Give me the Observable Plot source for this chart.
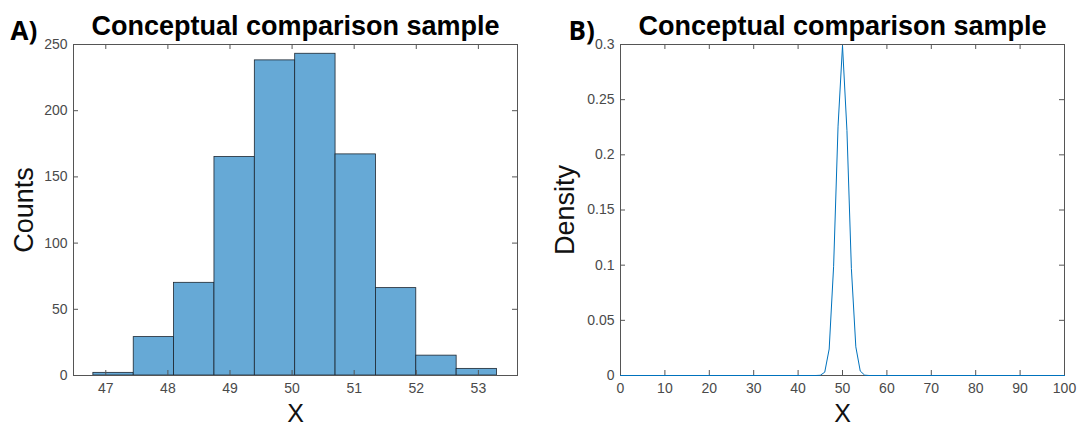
<!DOCTYPE html>
<html><head><meta charset="utf-8">
<script src="https://cdn.jsdelivr.net/npm/d3@7"></script>
<script src="https://cdn.jsdelivr.net/npm/@observablehq/plot@0.6"></script>
<style>
body{margin:0;background:#fff;}
#wrap{display:flex;width:1083px;height:427px;overflow:hidden;}
svg{display:block}
</style></head><body><div id="wrap"></div>
<script>
// ---- data ----
const titleText = "Conceptual comparison sample";
const panelLabels = ["A)", "B)"];
const xLabel = "X";
const yLabels = ["Counts", "Density"];

const binEdges = [46.8, 47.45, 48.1, 48.75, 49.4, 50.05, 50.7, 51.35, 52.0, 52.65, 53.3];
const counts = [2, 29, 70, 165, 238, 243, 167, 66, 15, 5];
const histXTicks = [47, 48, 49, 50, 51, 52, 53];
const histYTicks = [0, 50, 100, 150, 200, 250];

const densityX = [0, 44, 45, 46, 47, 48, 49, 50, 51, 52, 53, 54, 55, 56, 100];
const densityY = [0, 0, 0.0002, 0.003, 0.024, 0.099, 0.226, 0.299, 0.222, 0.097, 0.026, 0.004, 0.0003, 0, 0];
const densXTicks = [0, 10, 20, 30, 40, 50, 60, 70, 80, 90, 100];
const densYTicks = [0, 0.05, 0.1, 0.15, 0.2, 0.25, 0.3];

// ---- build ----
const H = 427;
const font = "'Liberation Sans', Arial, sans-serif";
const tickCol = "#4a4a4a";
const frameCol = "#555";
const TL = 5;

function decorations({mt, mb, ml, mr, W, xTicks, yTicks, yfmt, panel, ylab, ylabDx, panelDx}) {
  const iw = W - ml - mr, ih = H - mt - mb;
  return [
    Plot.frame({stroke: frameCol, strokeWidth: 1}),
    Plot.tickX(xTicks, {x: d => d, insetTop: ih - TL, stroke: frameCol}),
    Plot.tickX(xTicks, {x: d => d, insetBottom: ih - TL, stroke: frameCol}),
    Plot.tickY(yTicks, {y: d => d, insetRight: iw - TL, stroke: frameCol}),
    Plot.tickY(yTicks, {y: d => d, insetLeft: iw - TL, stroke: frameCol}),
    Plot.axisX(xTicks, {tickSize: 0, tickPadding: 8, fontSize: 14, fill: tickCol, label: null}),
    Plot.axisY(yTicks, {tickSize: 0, tickPadding: 6, fontSize: 14, fill: tickCol, label: null, tickFormat: yfmt}),
    Plot.text([titleText], {frameAnchor: "top", lineAnchor: "top", textAnchor: "middle", dy: -29, fontSize: 27, fontWeight: "bold", fill: "#000"}),
    Plot.text([panel], {frameAnchor: "top-left", lineAnchor: "top", dx: panelDx, dy: -23, textAnchor: "start", fontSize: 26, fontWeight: "bold", fill: "#000", fontFamily: "'Open Sans', sans-serif"}),
    Plot.text([xLabel], {frameAnchor: "bottom", lineAnchor: "middle", textAnchor: "middle", dy: 38, fontSize: 25, fill: "#111"}),
    Plot.text([ylab], {frameAnchor: "left", lineAnchor: "middle", textAnchor: "middle", dx: ylabDx, rotate: -90, fontSize: 27, fill: "#111"})
  ];
}

// Left: histogram
const bins = counts.map((c, i) => ({x1: binEdges[i], x2: binEdges[i + 1], y: c}));
const L = {mt: 44, mb: 52, ml: 73, mr: 24, W: 541};
const left = Plot.plot({
  width: L.W, height: H,
  marginTop: L.mt, marginBottom: L.mb, marginLeft: L.ml, marginRight: L.mr,
  x: {domain: [46.48, 53.63], axis: null},
  y: {domain: [0, 250], axis: null},
  style: {fontFamily: font, background: "white", overflow: "visible", color: "#000"},
  marks: [
    Plot.rectY(bins, {x1: "x1", x2: "x2", y: "y", fill: "#66a9d6", stroke: "#1c2630", strokeWidth: 0.8}),
    ...decorations({...L, xTicks: histXTicks, yTicks: histYTicks, yfmt: d => String(d), panel: panelLabels[0], ylab: yLabels[0], ylabDx: -49, panelDx: -63})
  ]
});

// Right: density
const pts = densityX.map((x, i) => ({x, y: densityY[i]}));
const R = {mt: 44, mb: 52, ml: 79, mr: 19, W: 542};
const right = Plot.plot({
  width: R.W, height: H,
  marginTop: R.mt, marginBottom: R.mb, marginLeft: R.ml, marginRight: R.mr,
  x: {domain: [0, 100], axis: null},
  y: {domain: [0, 0.3], axis: null},
  style: {fontFamily: font, background: "white", overflow: "visible", color: "#000"},
  marks: [
    ...decorations({...R, xTicks: densXTicks, yTicks: densYTicks, yfmt: d => String(d), panel: panelLabels[1], ylab: yLabels[1], ylabDx: -55, panelDx: -52}),
    Plot.line(pts, {x: "x", y: "y", stroke: "#0072BD", strokeWidth: 1})
  ]
});

document.getElementById("wrap").append(left, right);
</script></body></html>
